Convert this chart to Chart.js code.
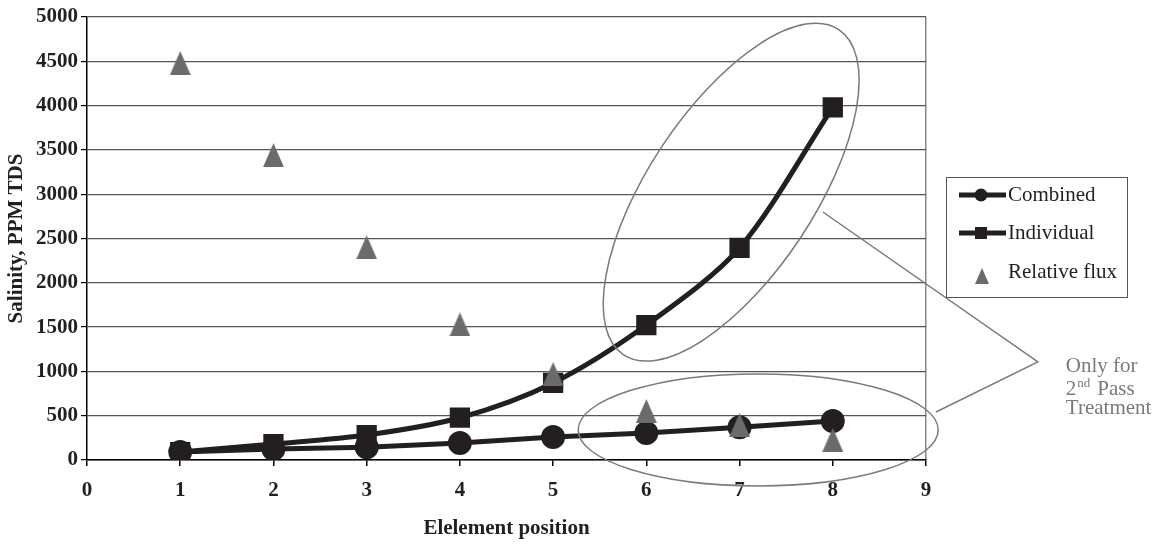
<!DOCTYPE html>
<html><head><meta charset="utf-8">
<script src="https://cdn.jsdelivr.net/npm/chart.js@4/dist/chart.umd.min.js"></script>
<style>html,body{margin:0;padding:0;background:#fff;} #wrap{width:1161px;height:545px;position:relative;}</style>
</head><body><div id="wrap"><canvas id="c"></canvas></div>
<script>
// ---- data ----
const positions = [1, 2, 3, 4, 5, 6, 7, 8];
const combined = [90, 125, 145, 192, 260, 305, 370, 440];
const individual = [90, 180, 282, 477, 870, 1523, 2393, 3980];
const relativeFlux = [4480, 3440, 2400, 1530, 970, 553, 395, 226];
const xTicks = [0, 1, 2, 3, 4, 5, 6, 7, 8, 9];
const yTicks = [0, 500, 1000, 1500, 2000, 2500, 3000, 3500, 4000, 4500, 5000];
const seriesNames = ['Combined', 'Individual', 'Relative flux'];
const xTitle = 'Elelement position';
const yTitle = 'Salinity, PPM TDS';
const noteLine1 = 'Only for';
const noteSup = ['2', 'nd', 'Pass'];
const noteLine3 = 'Treatment';

const SERIF = "'Liberation Serif', 'Times New Roman', serif";
const DARK = '#231f20';
const GREY = '#6b6b6b';
const ANNO = '#7a7a7a';

function triangleImg(w, h, color) {
  const c = document.createElement('canvas');
  c.width = w; c.height = h;
  const g = c.getContext('2d');
  g.fillStyle = color;
  g.beginPath(); g.moveTo(w / 2, 0); g.lineTo(w, h); g.lineTo(0, h); g.closePath(); g.fill();
  return c;
}
const triBig = triangleImg(21, 24, GREY);

const toPts = (vals) => positions.map((p, i) => ({ x: p, y: vals[i] }));

const annot = {
  id: 'annot',
  afterDatasetsDraw(chart) {
    const { ctx, scales: { x, y } } = chart;
    ctx.save();
    ctx.strokeStyle = ANNO; ctx.lineWidth = 1.5;
    // upper (tilted) ellipse
    ctx.beginPath();
    ctx.ellipse(x.getPixelForValue(6.91), y.getPixelForValue(3023), 195, 83, -56.5 * Math.PI / 180, 0, Math.PI * 2);
    ctx.stroke();
    // lower ellipse
    ctx.beginPath();
    ctx.ellipse(x.getPixelForValue(7.2), y.getPixelForValue(340), 180, 56, 0, 0, Math.PI * 2);
    ctx.stroke();
    // callout lines
    ctx.beginPath();
    ctx.moveTo(x.getPixelForValue(7.894), y.getPixelForValue(2799));
    ctx.lineTo(x.getPixelForValue(10.2), y.getPixelForValue(1106));
    ctx.lineTo(x.getPixelForValue(9.107), y.getPixelForValue(542));
    ctx.stroke();
    // note text
    ctx.fillStyle = ANNO;
    ctx.textBaseline = 'middle'; ctx.textAlign = 'left';
    const tx = x.getPixelForValue(10.5);
    ctx.font = '21px ' + SERIF;
    ctx.fillText(noteLine1, tx, y.getPixelForValue(1061));
    const y2 = y.getPixelForValue(801);
    ctx.fillText(noteSup[0], tx, y2);
    let w = ctx.measureText(noteSup[0]).width;
    ctx.font = '13px ' + SERIF;
    ctx.fillText(noteSup[1], tx + w + 1, y2 - 5);
    w += ctx.measureText(noteSup[1]).width + 8;
    ctx.font = '21px ' + SERIF;
    ctx.fillText(noteSup[2], tx + w, y2);
    ctx.fillText(noteLine3, tx, y.getPixelForValue(576));
    ctx.restore();
  },
  afterDraw(chart) {
    const { ctx } = chart;
    ctx.save();
    // legend
    ctx.strokeStyle = '#555'; ctx.lineWidth = 1;
    ctx.strokeRect(946.5, 177.5, 181, 120);
    const rows = [195, 233, 272];
    ctx.font = '21px ' + SERIF; ctx.textBaseline = 'middle'; ctx.fillStyle = DARK;
    // Combined
    ctx.strokeStyle = DARK; ctx.lineWidth = 5;
    ctx.beginPath(); ctx.moveTo(959, rows[0]); ctx.lineTo(1006, rows[0]); ctx.stroke();
    ctx.beginPath(); ctx.arc(981, rows[0], 6.5, 0, Math.PI * 2); ctx.fill();
    ctx.fillText(seriesNames[0], 1008, rows[0]);
    // Individual
    ctx.beginPath(); ctx.moveTo(959, rows[1]); ctx.lineTo(1006, rows[1]); ctx.stroke();
    ctx.fillRect(975, rows[1] - 6, 12, 12);
    ctx.fillText(seriesNames[1], 1008, rows[1]);
    // Relative flux
    ctx.drawImage(triangleImg(14, 16, GREY), 975, rows[2] - 4);
    ctx.fillStyle = DARK;
    ctx.fillText(seriesNames[2], 1008, rows[2]);
    ctx.restore();
  }
};

new Chart(document.getElementById('c'), {
  type: 'line',
  data: {
    datasets: [
      {
        label: seriesNames[2], data: toPts(relativeFlux), showLine: false,
        pointStyle: triBig, pointRadius: 10, pointHoverRadius: 10, order: 0
      },
      {
        label: seriesNames[0], data: toPts(combined), borderColor: DARK, backgroundColor: DARK,
        borderWidth: 5, pointStyle: 'circle', pointRadius: 9.5, pointHoverRadius: 9.5, tension: 0, order: 1
      },
      {
        label: seriesNames[1], data: toPts(individual), borderColor: DARK, backgroundColor: DARK,
        borderWidth: 5, pointStyle: 'rect', pointRadius: 10.8, pointHoverRadius: 10.8, tension: 0.3, order: 2
      }
    ]
  },
  options: {
    responsive: true, maintainAspectRatio: false, animation: false,
    layout: { padding: { top: 17, right: 235, left: 0, bottom: 0 } },
    plugins: { legend: { display: false }, tooltip: { enabled: false } },
    scales: {
      x: {
        type: 'linear', min: 0, max: 9,
        afterBuildTicks: s => { s.ticks = xTicks.map(v => ({ value: v })); },
        afterFit: s => { s.height = 85; },
        grid: {
          color: c => (c.tick && c.tick.value === 9) ? '#888' : 'rgba(0,0,0,0)',
          tickColor: '#000', tickLength: 6, lineWidth: 1.5, drawOnChartArea: true
        },
        border: { color: '#000', width: 1.5 },
        ticks: { color: DARK, font: { family: SERIF, size: 21, weight: 'bold' }, padding: 12, maxRotation: 0, callback: v => String(v) },
        title: { display: true, text: xTitle, color: DARK, font: { family: SERIF, size: 21, weight: 'bold' }, padding: { top: 4, bottom: 4 } }
      },
      y: {
        min: 0, max: 5000,
        afterBuildTicks: s => { s.ticks = yTicks.map(v => ({ value: v })); },
        afterFit: s => { s.width = 87; },
        grid: { color: '#555', tickColor: '#000', tickLength: 6, lineWidth: 1.2 },
        border: { color: '#000', width: 1.5 },
        ticks: { color: DARK, font: { family: SERIF, size: 21, weight: 'bold' }, padding: 3, callback: v => String(v) },
        title: { display: true, text: yTitle, color: DARK, font: { family: SERIF, size: 21, weight: 'bold' }, padding: { top: 4, bottom: 4 } }
      }
    }
  },
  plugins: [annot]
});
</script></body></html>
